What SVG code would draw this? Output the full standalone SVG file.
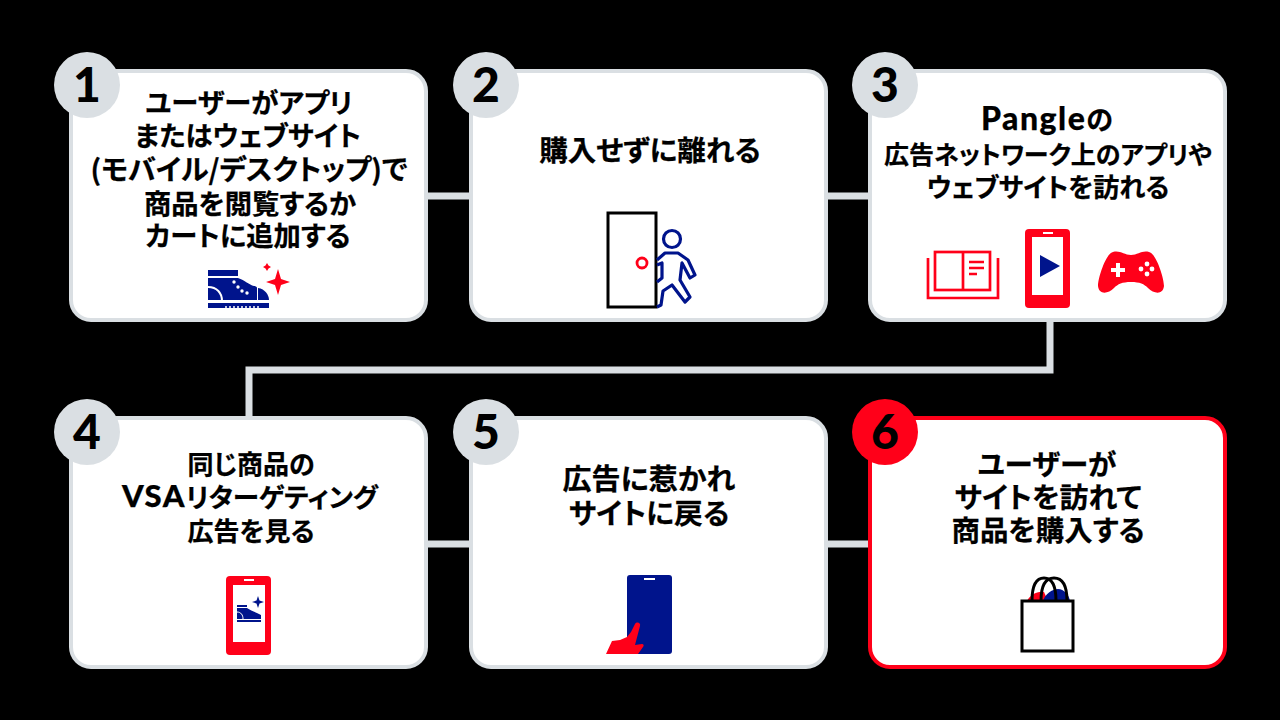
<svg xmlns="http://www.w3.org/2000/svg" width="1280" height="720" viewBox="0 0 1280 720">
<style>
.card{fill:#fff;stroke:#dadfe3;stroke-width:4}
.red{stroke:#ff0019}
.badge{fill:#dadfe3}
.num{font-family:"Lato","Liberation Sans",sans-serif;font-weight:900;font-size:48px;text-anchor:middle;fill:#000}
.t{font-family:"Noto Sans CJK JP",sans-serif;font-weight:700;font-size:27.3px;text-anchor:middle;fill:#000;stroke:#000;stroke-width:.25;font-feature-settings:"palt"}
.lat{font-family:"Lato","Noto Sans CJK JP",sans-serif;font-weight:900}
.conn{fill:none;stroke:#dadfe3;stroke-width:7}
.nv{fill:#00148c}.rd{fill:#ff0019}
</style>
<rect width="1280" height="720" fill="#000"/>
<g id="connectors">
<path class="conn" d="M425 196H472M825 196H872M1050 320V370H249V418M425 544H472M825 544H872"/>
</g>
<g id="node1">
<rect class="card" x="71" y="71" width="355" height="249" rx="20"/>
<circle class="badge" cx="87" cy="85" r="33"/>
<text class="num" x="87" y="102">1</text>
<text class="t"><tspan x="249" y="113">ユーザーがアプリ</tspan><tspan x="248" y="146">またはウェブサイト</tspan><tspan x="249" y="180" font-size="28.2">(モバイル/デスクトップ)で</tspan><tspan x="250" y="214">商品を閲覧するか</tspan><tspan x="248" y="246">カートに追加する</tspan></text>
<g>
<rect class="nv" x="208" y="270" width="30" height="6"/>
<path class="nv" d="M208 278H238C245 280 249 285 254 286C256 286 257 287 257 288V300H208Z"/>
<path d="M208 287C217 287 222 293 222 301" fill="none" stroke="#fff" stroke-width="2"/>
<path class="nv" d="M258 288C265 289 269 295 269 300H258Z"/>
<rect class="nv" x="208" y="303" width="61" height="5"/>
<g fill="#fff"><circle cx="234" cy="282" r="1.7"/><circle cx="238" cy="287" r="1.7"/><circle cx="242" cy="291" r="1.7"/><circle cx="247" cy="293" r="1.7"/>
<circle cx="226" cy="307" r="1"/><circle cx="230" cy="307" r="1"/><circle cx="234" cy="307" r="1"/><circle cx="238" cy="307" r="1"/><circle cx="242" cy="307" r="1"/><circle cx="246" cy="307" r="1"/><circle cx="250" cy="307" r="1"/><circle cx="254" cy="307" r="1"/><circle cx="258" cy="307" r="1"/></g>
<path class="rd" d="M278 269L281 279L290 282L281 285L278 295L275 285L266 282L275 279Z"/>
<path class="rd" d="M267 263L268.500 265.500L271 267L268.500 268.500L267 271L265.500 268.500L263 267L265.500 265.500Z"/>
</g>
</g>
<g id="node2">
<rect class="card" x="471" y="71" width="355" height="249" rx="20"/>
<circle class="badge" cx="486" cy="85" r="33"/>
<text class="num" x="486" y="102">2</text>
<text class="t"><tspan x="650" y="161" font-size="28.600">購入せずに離れる</tspan></text>
<rect x="608" y="213" width="48" height="94" fill="#fff" stroke="#000" stroke-width="3"/>
<circle cx="642" cy="263" r="5" fill="none" stroke="#ff0019" stroke-width="2.800"/>
<g fill="none" stroke="#00148c" stroke-width="3.200" stroke-linejoin="round">
<circle cx="672" cy="239" r="8.500"/>
<path d="M657 260L665 253H678L688 260L695 275L690 278L682 263L680 280L690 297L685 302L672 285L663 291L661 305L657 307"/>
<path d="M657 265L662 263V278L657 282"/>
</g>
</g>
<g id="node3">
<rect class="card" x="870" y="71" width="355" height="249" rx="20"/>
<circle class="badge" cx="885" cy="85" r="33"/>
<text class="num" x="885" y="102">3</text>
<text class="t"><tspan x="1047" y="130" class="lat" font-size="32" letter-spacing="1.500">Pangle</tspan><tspan font-size="27">の</tspan><tspan x="1048" y="164" font-size="25">広告ネットワーク上のアプリや</tspan><tspan x="1048" y="197" font-size="26">ウェブサイトを訪れる</tspan></text>
<g fill="none" stroke="#ff0019" stroke-width="2.700">
<rect x="935" y="252" width="55" height="38"/>
<path d="M963 252V290M928 258V298H998V258"/>
<path d="M969 262H984M969 268H984M969 274H977"/>
</g>
<rect class="rd" x="1025" y="229" width="45" height="79" rx="4"/>
<rect x="1032" y="237" width="31" height="58" fill="#fff"/>
<rect x="1043" y="232" width="10" height="2" fill="#fff"/>
<path class="nv" d="M1040 255L1060 266L1040 277Z"/>
<path class="rd" d="M1113 252C1120 250 1124 255 1131 255C1138 255 1142 250 1149 252C1156 253 1164 278 1164 286C1163 295 1154 294 1148 288C1144 284 1140 282 1131 282C1122 282 1118 284 1114 288C1108 294 1099 295 1098 286C1098 278 1106 253 1113 252Z"/>
<path d="M1116 263h4v5h5v4h-5v5h-4v-5h-5v-4h5Z" fill="#fff"/>
<g fill="#fff"><circle cx="1147" cy="264" r="2.400"/><circle cx="1147" cy="274" r="2.400"/><circle cx="1141" cy="269" r="2.400"/><circle cx="1152" cy="269" r="2.400"/></g>
</g>
<g id="node4">
<rect class="card" x="71" y="418" width="355" height="249" rx="20"/>
<circle class="badge" cx="87" cy="432" r="33"/>
<text class="num" x="87" y="449">4</text>
<text class="t"><tspan x="251" y="474" font-size="26">同じ商品の</tspan><tspan x="250" y="507" class="lat" font-size="31" letter-spacing="1.500">VSA</tspan><tspan font-size="26.600">リターゲティング</tspan><tspan x="251" y="541" font-size="26">広告を見る</tspan></text>
<rect class="rd" x="226" y="576" width="45" height="79" rx="4"/>
<rect x="233" y="585" width="32" height="57" fill="#fff"/>
<rect x="244" y="579" width="10" height="2" fill="#fff"/>
<rect class="nv" x="237" y="605" width="10" height="2"/>
<path class="nv" d="M237 608H247C251 611 256 612 261 615V619H237Z"/>
<path d="M237 612C241 612 243 615 243 619" fill="none" stroke="#fff"/>
<rect class="nv" x="237" y="620" width="24" height="2"/>
<path class="nv" d="M258 596L259.500 600.500L264 602L259.500 603.500L258 608L256.500 603.500L252 602L256.500 600.500Z"/>
</g>
<g id="node5">
<rect class="card" x="471" y="418" width="355" height="249" rx="20"/>
<circle class="badge" cx="486" cy="432" r="33"/>
<text class="num" x="486" y="449">5</text>
<text class="t"><tspan x="649" y="490" font-size="29">広告に惹かれ</tspan><tspan x="649" y="524" font-size="28.800">サイトに戻る</tspan></text>
<rect class="nv" x="627" y="575" width="45" height="79" rx="3"/>
<rect x="644" y="578" width="11" height="2" fill="#fff"/>
<path class="rd" d="M606 654L612 641L620 640L627 637L631 632L635 624C637 621 641 623 640 626L635 645L642 644C644 644 644 646 643 647L638 654Z"/>
</g>
<g id="node6">
<rect class="card red" x="870" y="418" width="355" height="249" rx="20"/>
<circle cx="885" cy="432" r="33" fill="#ff0019"/>
<text class="num" x="885" y="449">6</text>
<text class="t"><tspan x="1047" y="475" font-size="28.500">ユーザーが</tspan><tspan x="1048" y="508" font-size="28.800">サイトを訪れて</tspan><tspan x="1048" y="541" font-size="28.500">商品を購入する</tspan></text>
<path class="rd" d="M1027 601C1030 595 1037 591 1044 592L1048 601Z"/>
<path class="nv" d="M1043 601C1045 594 1052 589 1058 589C1064 589 1069 595 1070 601Z"/>
<path d="M1032 601C1032 585 1036 578 1044 578C1052 578 1056 585 1056 601" fill="none" stroke="#000" stroke-width="3"/>
<path d="M1041 601C1041 585 1046 578 1054 578C1062 578 1067 585 1067 601" fill="none" stroke="#000" stroke-width="3"/>
<rect x="1022" y="601" width="51" height="50" fill="#fff" stroke="#000" stroke-width="3"/>
</g>
</svg>
